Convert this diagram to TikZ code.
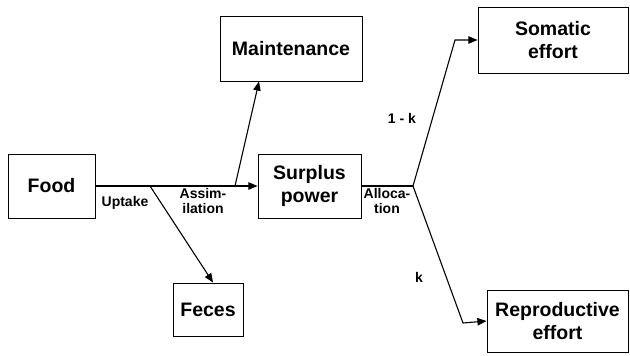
\documentclass[tikz,border=0pt]{standalone}
\usepackage{fontspec}
\setmainfont{Liberation Sans}
\usetikzlibrary{arrows}

\begin{document}
\begin{tikzpicture}[x=1pt,y=-1pt,
    box/.style={draw,line width=1pt,align=center,inner sep=0pt,font=\fontsize{19.5}{23.5}\selectfont\bfseries},
    lab/.style={align=center,inner sep=0pt,font=\fontsize{14}{15.5}\selectfont\bfseries},
    flow/.style={line width=1.1pt,-triangle 45}]
    \useasboundingbox (0,0) rectangle (630,356);
    % boxes
    \node[box,minimum width=87,minimum height=64] (food) at (51.5,186) {Food};
    \node[box,minimum width=103,minimum height=64] (surplus) at (309.5,186) {Surplus\\power};
    \node[box,minimum width=70,minimum height=53] (feces) at (208,309.5) {Feces};
    \node[box,minimum width=142,minimum height=65] (maint) at (291,48.5) {Maintenance};
    \node[box,minimum width=150,minimum height=66] (somatic) at (553,40) {Somatic\\effort};
    \node[box,minimum width=141,minimum height=62] (repro) at (557.5,321) {Reproductive\\effort};
    % branch points
    \coordinate (up) at (150,186);
    \coordinate (as) at (235,186);
    \coordinate (al) at (413,186);
    \coordinate (s1) at (455,40);
    \coordinate (r1) at (463,323);
    % flows
    \draw[flow] (food.east) -- (surplus.west);
    \draw[flow] (up) -- ([xshift=5]feces.north);
    \draw[flow] (as) -- ([xshift=-32]maint.south);
    \draw[line width=1.1pt] (surplus.east) -- (al);
    \draw[flow] (al) -- (s1) -- (somatic.west);
    \draw[flow] (al) -- (r1) -- (repro.west);
    % labels
    \node[lab] (uptake) at (125,203) {Uptake};
    \node[lab] (assim) at (203,201) {Assim-\\ilation};
    \node[lab] (alloc) at (387,201) {Alloca-\\tion};
    \node[lab] (onek) at (402,118) {1 - k};
    \node[lab] (kk) at (419,277) {k};
\end{tikzpicture}
\end{document}
